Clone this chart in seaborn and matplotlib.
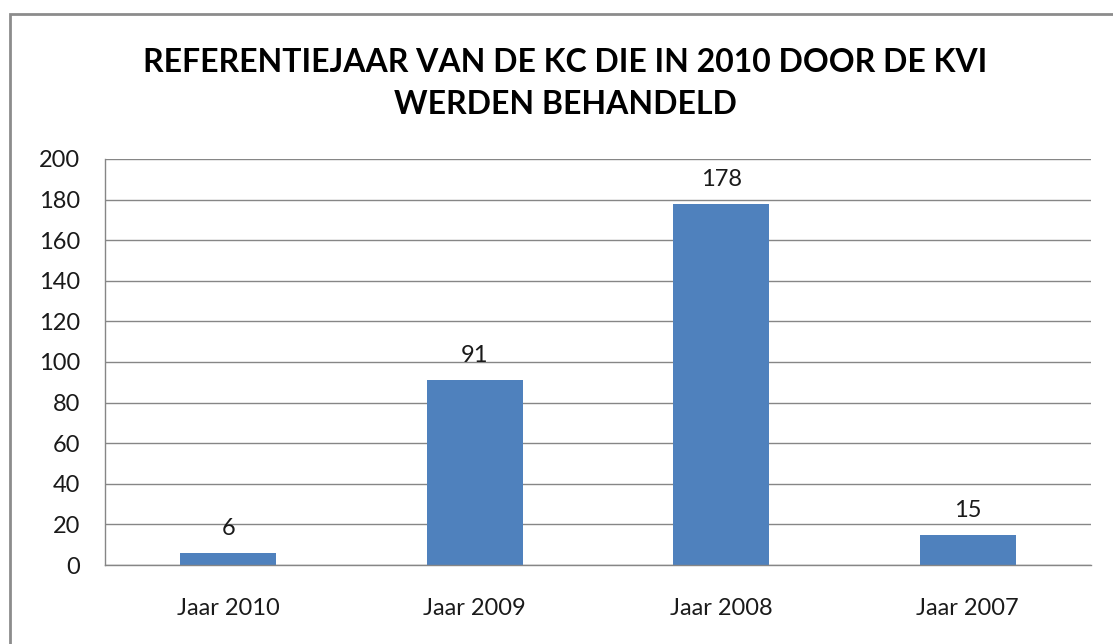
import matplotlib
matplotlib.use("Agg")
import matplotlib.pyplot as plt
import seaborn as sns
import pandas as pd
from matplotlib.patches import Rectangle
from matplotlib.ticker import MultipleLocator, FixedLocator

categories = ["Jaar 2010", "Jaar 2009", "Jaar 2008", "Jaar 2007"]
values = [6, 91, 178, 15]
title_lines = ["REFERENTIEJAAR VAN DE KC DIE IN 2010 DOOR DE KVI", "WERDEN BEHANDELD"]

sns.set_style("white")
plt.rcParams["font.family"] = ["Lato", "DejaVu Sans"]

W, H = 1113, 644
fig = plt.figure(figsize=(W / 100, H / 100), dpi=100)
fig.patch.set_facecolor("white")

# outer chart border
fig.patches.append(Rectangle((10 / W, -0.05), 1.1, 1 - 14 / H + 0.05,
                             transform=fig.transFigure, fill=False,
                             edgecolor="#8c8c8c", linewidth=2))

ax = fig.add_axes([105 / W, 1 - 565 / H, (1091 - 105) / W, (565 - 159) / H])
df = pd.DataFrame({"cat": categories, "val": values})
sns.barplot(data=df, x="cat", y="val", ax=ax, color="#4F81BD", width=0.39,
            saturation=1, edgecolor="none")

ax.set_xlim(-0.5, len(categories) - 0.5)
ax.set_ylim(0, 200)
ax.yaxis.set_major_locator(MultipleLocator(20))
ax.grid(axis="y", color="#868686", linewidth=1)
ax.set_axisbelow(True)
ax.set_xlabel("")
ax.set_ylabel("")

for s in ["top", "right"]:
    ax.spines[s].set_visible(False)
for s in ["left", "bottom"]:
    ax.spines[s].set_color("#868686")
    ax.spines[s].set_linewidth(1)

ax.tick_params(axis="y", which="major", length=6, width=1, color="#868686",
               labelsize=17, pad=12, labelcolor="#1a1a1a")
ax.tick_params(axis="x", which="major", length=0, labelsize=17, pad=24,
               labelcolor="#1a1a1a")
ax.xaxis.set_minor_locator(FixedLocator([i - 0.5 for i in range(len(categories) + 1)]))
ax.tick_params(axis="x", which="minor", length=6, width=1, color="#868686")

for i, v in enumerate(values):
    ax.annotate(str(v), (i, v), xytext=(0, 10), textcoords="offset points",
                ha="center", va="bottom", fontsize=17, color="#1a1a1a")

fig.text(565 / W, 1 - 62 / H, title_lines[0], ha="center", va="center",
         fontsize=23, fontweight="bold", color="#000000")
fig.text(565 / W, 1 - 105 / H, title_lines[1], ha="center", va="center",
         fontsize=23, fontweight="bold", color="#000000")

fig.savefig("out.png", dpi=100)
